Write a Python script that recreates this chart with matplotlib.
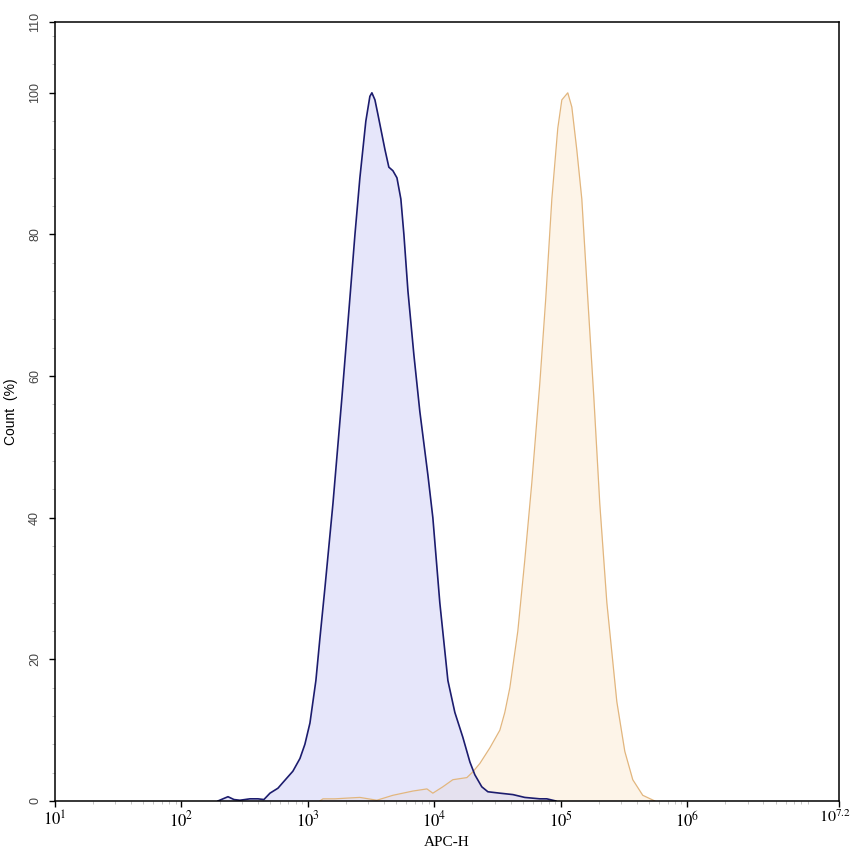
import numpy as np
import matplotlib.pyplot as plt
from matplotlib.ticker import FixedLocator, NullFormatter

plt.rcParams['mathtext.fontset'] = 'stix'

# log10(APC-H) and Count (%)
blue_log = [2.289, 2.328, 2.368, 2.415, 2.462, 2.542, 2.605, 2.652, 2.700, 2.763,
            2.802, 2.881, 2.937, 2.976, 3.016, 3.063, 3.095, 3.134, 3.198, 3.269,
            3.332, 3.372, 3.411, 3.458, 3.490, 3.506, 3.530, 3.553, 3.609, 3.640,
            3.672, 3.704, 3.735, 3.759, 3.791, 3.838, 3.885, 3.949, 3.988, 4.043,
            4.107, 4.162, 4.225, 4.281, 4.320, 4.375, 4.423, 4.518, 4.621, 4.715,
            4.834, 4.889, 4.960]
blue_pct = [0, 0.3, 0.6, 0.2, 0.1, 0.3, 0.3, 0.2, 1.1, 1.8,
            2.6, 4.2, 6.0, 8.0, 11, 17, 23, 30, 42, 57,
            71, 80, 88, 96, 99.5, 100, 99, 97, 92, 89.5,
            89, 88, 85, 80, 72, 63, 55, 46, 40, 28,
            17, 12.5, 9, 5.5, 3.7, 2.0, 1.3, 1.1, 0.9, 0.5,
            0.3, 0.3, 0]

orange_log = [3.095, 3.119, 3.213, 3.308, 3.411, 3.545, 3.672, 3.830, 3.941, 3.988,
              4.067, 4.146, 4.257, 4.304, 4.360, 4.439, 4.518, 4.557, 4.597, 4.660,
              4.715, 4.771, 4.834, 4.881, 4.929, 4.976, 5.008, 5.055, 5.087, 5.126,
              5.166, 5.213, 5.261, 5.308, 5.364, 5.443, 5.506, 5.569, 5.648, 5.743]
orange_pct = [0, 0.3, 0.3, 0.4, 0.5, 0.1, 0.8, 1.4, 1.7, 1.1,
              2.0, 3.0, 3.3, 4.1, 5.3, 7.5, 10, 12.5, 16, 24,
              34, 45, 59, 71, 85, 95, 99, 100, 98, 92,
              85, 71, 57, 42, 28, 14, 7, 3, 0.8, 0]

x_ticks = [1, 2, 3, 4, 5, 6, 7.2]
x_labels = ['$10^{1}$', '$10^{2}$', '$10^{3}$', '$10^{4}$', '$10^{5}$', '$10^{6}$', '$10^{7.2}$']
y_ticks = [0, 20, 40, 60, 80, 100, 110]

fig = plt.figure(figsize=(8.53, 8.56), dpi=100)
ax = fig.add_axes([0.0645, 0.0643, 0.9191, 0.9100])

xo = 10 ** np.array(orange_log)
xb = 10 ** np.array(blue_log)
ax.fill_between(xo, orange_pct, 0, color='#fdf4e8', lw=0)
ax.plot(xo, orange_pct, color='#e2b67e', lw=0.9)
ax.fill_between(xb, blue_pct, 0, color='#cfcff6', alpha=0.5, lw=0)
ax.plot(xb, blue_pct, color='#1c1c6e', lw=1.2)

ax.set_xscale('log')
ax.set_xlim(10 ** 1, 10 ** 7.2)
ax.set_ylim(0, 110)

ax.xaxis.set_major_locator(FixedLocator([10 ** t for t in x_ticks]))
# last label is drawn by hand so it stays inside the figure
ax.set_xticklabels(x_labels[:-1] + [''], fontsize=12)
ax.annotate(x_labels[-1], xy=(10 ** x_ticks[-1], 0), xycoords=('data', 'axes fraction'),
            xytext=(12, -7), textcoords='offset pixels', ha='right', va='top',
            fontsize=11.5, annotation_clip=False)
minor = [m * 10 ** d for d in range(1, 8) for m in range(2, 10) if m * 10 ** d < 10 ** 7.2]
ax.xaxis.set_minor_locator(FixedLocator(minor))
ax.xaxis.set_minor_formatter(NullFormatter())

ax.set_yticks(y_ticks)
ax.set_yticklabels([str(v) for v in y_ticks], rotation=90, va='center',
                   fontsize=9, color='#444444', family='Liberation Sans')
ax.yaxis.set_minor_locator(FixedLocator(np.arange(0, 111, 4)))

ax.tick_params(which='major', direction='out', length=4, width=1, color='black')
ax.tick_params(which='minor', direction='out', length=2.5, width=0.6, color='#bbbbbb')
ax.tick_params(axis='y', pad=6)
ax.tick_params(axis='x', pad=3)

for s in ax.spines.values():
    s.set_linewidth(1.1)

ax.set_xlabel('APC-H', family='Liberation Serif', fontsize=11, labelpad=4)
ax.set_ylabel('Count  (%)', family='Liberation Sans', fontsize=10, labelpad=8)

fig.savefig('out.png', dpi=100)
